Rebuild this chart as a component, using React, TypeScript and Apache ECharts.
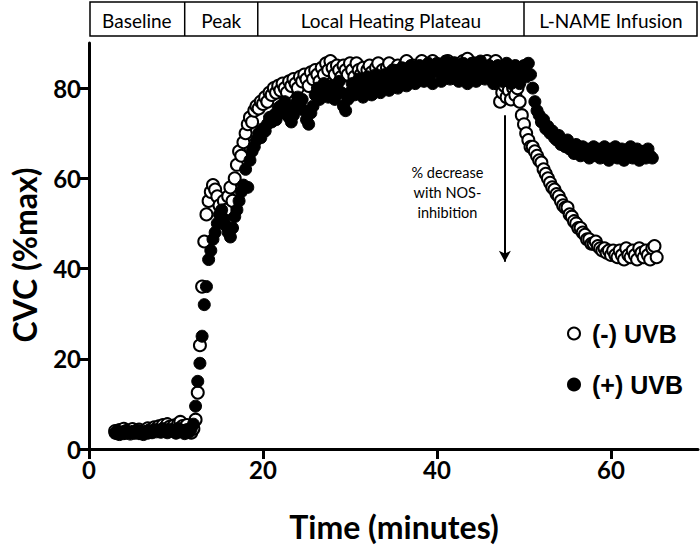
import React, { useEffect, useRef } from "react";
import * as echarts from "echarts";

// sampling grid (minutes)
const NEG_T0 = 3.0;
const POS_T0 = 3.0;
const STEP = 0.25;

// (-) UVB, CVC %max, one line = 2 min (8 samples)
const uvbNeg = [
  4.0, 3.5, 4.2, 3.8, 4.5, 3.6, 4.1, 3.9, // 3
  4.4, 3.7, 3.9, 4.3, 3.6, 4.0, 3.8, 4.6, // 5
  4.2, 3.9, 4.8, 4.4, 5.0, 4.6, 5.3, 4.8, // 7
  5.5, 4.9, 4.5, 5.2, 4.3, 5.6, 6.0, 5.1, // 9
  4.6, 5.3, 4.2, 3.6, 4.5, 6.5, 12.5, 23, // 11
  36, 46, 52, 55, 57, 58.5, 57.5, 56, // 13
  54, 52.5, 55, 53, 56, 58, 55, 60, // 15
  63, 66, 65, 68, 70, 72, 73.5, 72.5, // 17
  75, 76, 75.5, 77, 76.5, 78, 77, 79, // 19
  78.5, 80, 79, 80.5, 79.5, 81, 80, 79, // 21
  81.5, 80.5, 82, 81, 80, 82.5, 81.5, 83, // 23
  82, 80.5, 83.5, 82, 84, 83, 81.5, 84.5, // 25
  83, 85.5, 84, 86, 84.5, 83, 85, 84, // 27
  82.5, 85, 84, 83, 85.5, 84, 82.5, 85.5, // 29
  84, 83, 84.5, 82, 84, 85, 83.5, 82, // 31
  84.5, 85.5, 83, 84, 82.5, 84.5, 85.5, 83.5, // 33
  84, 82.5, 85, 84, 83, 85, 86, 84, // 35
  83, 85, 84, 82.5, 84.5, 86, 84.5, 83, // 37
  85, 84, 86, 84.5, 83, 85, 84, 82.5, // 39
  85, 86, 84, 83, 85.5, 84, 82.5, 85, // 41
  86, 84.5, 86.5, 85, 83.5, 85.5, 84, 82.5, // 43
  84.5, 83, 85, 86, 84, 82.5, 85.5, 86, // 45
  81, 77, 79, 80.5, 78, 79.5, 77.5, 80, // 47
  78.5, 80, 77, 74, 72, 70, 68.5, 67, // 49
  67, 66, 65, 64, 63.5, 62, 61, 60, // 51
  59, 58, 57.5, 56.5, 56, 55, 54, 53.5, // 53
  53.5, 52, 51.5, 50.5, 50, 49, 49, 48, // 55
  47.5, 46.5, 46.5, 45.5, 45.5, 46, 45, 44.5, // 57
  44, 44.5, 43.5, 44, 43, 44, 43, 42.5, // 59
  44, 43, 42, 44.5, 43, 42.5, 44, 43, // 61
  42, 44.5, 43.5, 42.5, 44, 43, 42, 44.5, // 63
  45, 42.5, // 65
];

// (+) UVB
const uvbPos = [
  3.5, 4.0, 3.2, 3.8, 3.4, 4.1, 3.6, 3.3, // 3
  3.9, 3.5, 4.2, 3.4, 3.8, 3.2, 3.9, 3.5, // 5
  4.0, 3.6, 4.3, 3.8, 4.2, 3.7, 4.5, 4.0, // 7
  3.6, 4.4, 3.9, 4.2, 3.5, 4.6, 3.8, 4.1, // 9
  3.4, 4.3, 3.7, 4.5, 5.5, 9.5, 15, 19, // 11
  25, 32, 36, 42, 44, 46.5, 48, 50, // 13
  52, 53, 51, 49.5, 48, 47, 49, 51.5, // 15
  53, 55, 57, 58.5, 62, 58, 64, 66, // 17
  67, 68.5, 70, 69, 71, 70.5, 72, 73.5, // 19
  72.5, 74, 73, 75.5, 76, 74.5, 77, 75, // 21
  73.5, 72.5, 74, 76.5, 78, 76, 77.5, 75, // 23
  73, 72, 74.5, 76, 78.5, 80, 77.5, 79, // 25
  81, 79.5, 78, 80.5, 79, 77.5, 80, 81.5, // 27
  79, 76, 75, 77.5, 79, 81, 78.5, 80, // 29
  82, 79.5, 78, 80.5, 82.5, 80, 78.5, 81, // 31
  83, 80.5, 79, 81.5, 83, 81, 79.5, 82, // 33
  84, 81.5, 80, 82.5, 84.5, 82, 80.5, 83, // 35
  85, 82.5, 81, 83.5, 85, 83, 81.5, 84, // 37
  85.5, 83, 81, 84, 85.5, 83.5, 81.5, 84, // 39
  86, 83.5, 82, 84.5, 85.5, 83, 81.5, 84, // 41
  85.5, 83, 81, 83.5, 85.5, 83, 81.5, 84, // 43
  86, 83.5, 82, 84.5, 85, 82.5, 81, 83.5, // 45
  85, 83, 81.5, 84, 85.5, 83, 81, 83.5, // 47
  85, 82.5, 81, 83.5, 85, 82.5, 85.5, 83, // 49
  80, 77, 75, 74, 72.5, 73, 71, 71.5, // 51
  70, 70.5, 69, 68.5, 69.5, 67.5, 68, 67, // 53
  68.5, 66.5, 67, 65.5, 67.5, 66, 65, 67, // 55
  65.5, 66.5, 64.5, 66, 67, 65, 66.5, 64.5, // 57
  66, 67, 65, 64, 66.5, 65, 67, 64.5, // 59
  65.5, 66.5, 64, 66, 65, 67, 64.5, 65.5, // 61
  66.5, 64, 65.5, 66, 64.5, 66.5, 65, 64.5, // 63
];

const X_TICKS = [0, 20, 40, 60];
const Y_TICKS = [0, 20, 40, 60, 80];
const PHASES = ["Baseline", "Peak", "Local Heating Plateau", "L-NAME Infusion"];
const PHASE_EDGES = [0, 11, 19.4, 50, 70]; // minutes
const ANNOTATION = "% decrease\nwith NOS-\ninhibition";
const ARROW_T = 47.8;
const ARROW_FROM = 74;
const ARROW_TO = 41.5;

const toPoints = (t0: number, vals: number[]) =>
  vals.map((v, i) => [+(t0 + i * STEP).toFixed(2), v]);

export default function App() {
  const ref = useRef<HTMLDivElement>(null);
  useEffect(() => {
    document.body.style.margin = "0";
    if (!ref.current) return;
    const chart = echarts.init(ref.current, undefined, { renderer: "svg" });
    const tickFont = { color: "#000", fontFamily: "Lato", fontWeight: "bold" as const, fontSize: 24 };
    const option: any = {
      animation: false,
      backgroundColor: "#fff",
      grid: { left: 89, top: 43, width: 609, height: 406 },
      xAxis: {
        type: "value",
        min: 0,
        max: 70,
        axisLine: { onZero: false, lineStyle: { color: "#000", width: 3 } },
        axisTick: { show: true, length: 10, customValues: X_TICKS, lineStyle: { color: "#000", width: 3 } },
        axisLabel: { ...tickFont, customValues: X_TICKS, margin: 8 },
        splitLine: { show: false },
      },
      yAxis: {
        type: "value",
        min: 0,
        max: 90,
        axisLine: { onZero: false, lineStyle: { color: "#000", width: 3 } },
        axisTick: { show: true, length: 10, customValues: Y_TICKS, lineStyle: { color: "#000", width: 3 } },
        axisLabel: { ...tickFont, customValues: Y_TICKS, margin: 8 },
        splitLine: { show: false },
      },
      legend: {
        orient: "vertical",
        left: 562,
        top: 316,
        itemWidth: 12,
        itemHeight: 12,
        itemGap: 26,
        icon: "circle",
        textStyle: { color: "#000", fontFamily: "Liberation Sans", fontWeight: "bold", fontSize: 25, padding: [0, 0, 0, 7] },
        data: ["(-) UVB", "(+) UVB"],
      },
      series: [
        {
          name: "(-) UVB",
          type: "scatter",
          symbol: "circle",
          symbolSize: 12,
          itemStyle: { color: "#fff", borderColor: "#000", borderWidth: 2, opacity: 1 },
          data: toPoints(NEG_T0, uvbNeg),
        },
        {
          name: "(+) UVB",
          type: "scatter",
          symbol: "circle",
          symbolSize: 12,
          itemStyle: { color: "#000", borderColor: "#000", borderWidth: 1, opacity: 1 },
          data: toPoints(POS_T0, uvbPos),
          markLine: {
            silent: true,
            symbol: ["none", "arrow"],
            symbolSize: [9, 11],
            lineStyle: { color: "#000", width: 2, type: "solid" },
            label: { show: false },
            emphasis: { disabled: true },
            data: [[{ coord: [ARROW_T, ARROW_FROM] }, { coord: [ARROW_T, ARROW_TO] }]],
          },
        },
      ],
    };
    chart.setOption(option);

    const edges = PHASE_EDGES.map((t) => chart.convertToPixel({ xAxisIndex: 0 }, t) as number);
    const boxTop = 2;
    const boxBottom = 36;
    const graphic: any[] = [
      {
        type: "rect",
        shape: { x: edges[0] + 1, y: boxTop, width: edges[4] - edges[0] - 2, height: boxBottom - boxTop },
        style: { fill: "none", stroke: "#000", lineWidth: 1.5 },
      },
    ];
    for (let i = 1; i < edges.length - 1; i++) {
      graphic.push({
        type: "line",
        shape: { x1: edges[i], y1: boxTop, x2: edges[i], y2: boxBottom },
        style: { stroke: "#000", lineWidth: 1.5 },
      });
    }
    PHASES.forEach((p, i) => {
      graphic.push({
        type: "text",
        x: (edges[i] + edges[i + 1]) / 2,
        y: (boxTop + boxBottom) / 2 + 1,
        style: { text: p, fill: "#000", font: "19px Lato", align: "center", verticalAlign: "middle" },
      });
    });
    const annX = chart.convertToPixel({ xAxisIndex: 0 }, 41.2) as number;
    graphic.push({
      type: "text",
      x: annX,
      y: 162,
      style: { text: ANNOTATION, fill: "#000", font: "14.5px Lato", align: "center", verticalAlign: "top", lineHeight: 20 },
    });
    graphic.push({
      type: "text",
      x: 394,
      y: 526,
      style: { text: "Time (minutes)", fill: "#000", font: "bold 32px Lato", align: "center", verticalAlign: "middle" },
    });
    graphic.push({
      type: "text",
      x: 24,
      y: 255,
      rotation: Math.PI / 2,
      style: { text: "CVC (%max)", fill: "#000", font: "bold 32px Lato", align: "center", verticalAlign: "middle" },
    });
    chart.setOption({ graphic });

    return () => chart.dispose();
  }, []);
  return <div ref={ref} style={{ width: 700, height: 550 }} />;
}
